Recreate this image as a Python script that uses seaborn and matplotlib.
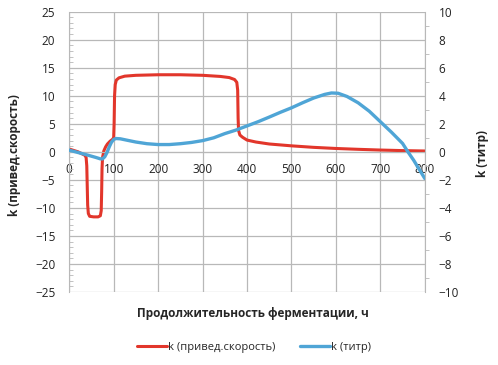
import numpy as np
import pandas as pd
import matplotlib
matplotlib.use("Agg")
import matplotlib.pyplot as plt
from matplotlib.ticker import MultipleLocator
import seaborn as sns

# ---- data ----
time_red = [0, 10, 20, 30, 35, 38, 39.5, 40.5, 41.5, 43, 46, 55, 65, 70, 72, 73, 73.8, 75, 78,
            82, 86, 92, 97, 100, 101, 102, 103.5, 106, 112, 125, 150, 200, 250, 300, 340,
            360, 372, 377, 379, 380, 381, 384, 390, 400, 420, 450, 500, 550, 600, 650,
            700, 750, 800]
k_rate = [0.5, 0.25, 0.0, -0.4, -0.6, -1.0, -2.5, -6.0, -9.5, -11.0, -11.5, -11.6, -11.6,
          -11.4, -10.5, -7.0, -3.0, -1.0, 0.2, 0.9, 1.4, 1.9, 2.2, 2.5, 5.0, 10.0, 12.0,
          12.8, 13.2, 13.5, 13.65, 13.75, 13.75, 13.65, 13.45, 13.25, 12.9, 12.4, 11.0,
          6.0, 3.8, 3.0, 2.6, 2.1, 1.75, 1.4, 1.07, 0.8, 0.6, 0.45, 0.32, 0.22, 0.15]

time_blue = [0, 20, 40, 60, 70, 75, 80, 85, 90, 95, 100, 105, 115, 130, 150, 175, 200, 225,
             250, 275, 300, 325, 350, 375, 400, 425, 450, 475, 500, 525, 550, 575, 590,
             605, 625, 650, 675, 700, 725, 750, 762, 775, 800]
k_titr = [0.12, -0.05, -0.22, -0.4, -0.5, -0.5, -0.35, -0.05, 0.35, 0.68, 0.88, 0.95, 0.93,
          0.83, 0.7, 0.58, 0.52, 0.52, 0.58, 0.67, 0.8, 1.0, 1.3, 1.55, 1.85, 2.15, 2.48,
          2.82, 3.14, 3.5, 3.84, 4.1, 4.2, 4.18, 3.95, 3.5, 2.9, 2.15, 1.4, 0.6, 0.0, -0.6,
          -1.9]

red_label = "k (привед.скорость)"
blue_label = "k (титр)"
x_title = "Продолжительность ферментации, ч"

# ---- style ----
sns.set_style("white")
plt.rcParams['font.family'] = ['Open Sans', 'DejaVu Sans']
red = "#e2362b"
blue = "#4fa5d6"
grid_c = "#b8b8b8"
txt_c = "#222222"

df_red = pd.DataFrame({"t": time_red, "k": k_rate})
df_blue = pd.DataFrame({"t": time_blue, "k": k_titr})

fig = plt.figure(figsize=(4.98, 3.65), dpi=100)
ax = fig.add_axes([0.139, 0.2, 0.714, 0.768])
ax2 = ax.twinx()

sns.lineplot(data=df_red, x="t", y="k", ax=ax, color=red, lw=2.2, sort=False,
             estimator=None, label=red_label, legend=False)
sns.lineplot(data=df_blue, x="t", y="k", ax=ax2, color=blue, lw=2.4, sort=False,
             estimator=None, label=blue_label, legend=False)

# left axis
ax.set_xlim(0, 800)
ax.set_ylim(-25, 25)
ax.xaxis.set_major_locator(MultipleLocator(100))
ax.yaxis.set_major_locator(MultipleLocator(5))
ax.yaxis.set_minor_locator(MultipleLocator(1))
ax.grid(True, which="major", color=grid_c, lw=0.9)
ax.set_axisbelow(True)
for s in ["top", "right"]:
    ax.spines[s].set_visible(False)
ax.spines["left"].set_color(grid_c)
ax.spines["bottom"].set_color(grid_c)
ax.spines["bottom"].set_position(("data", 0))
ax.tick_params(axis="y", which="major", length=0, pad=10, labelsize=8.5, labelcolor=txt_c)
ax.tick_params(axis="y", which="minor", length=3, direction="in", color=grid_c, left=True)
ax.tick_params(axis="x", which="major", length=0, pad=8, labelsize=8.5, labelcolor=txt_c)
ax.set_xlabel("")
ax.set_ylabel(red_label, fontsize=8.5, fontweight="bold")
ax.yaxis.set_label_coords(-0.135, 0.49)

# right axis
ax2.set_ylim(-10, 10)
ax2.yaxis.set_major_locator(MultipleLocator(2))
ax2.yaxis.set_minor_locator(MultipleLocator(1))
for s in ["top", "left", "bottom"]:
    ax2.spines[s].set_visible(False)
ax2.spines["right"].set_color(grid_c)
ax2.tick_params(axis="y", which="major", length=0, pad=10, labelsize=8.5, labelcolor=txt_c)
ax2.tick_params(axis="y", which="minor", length=3, direction="out", color=grid_c, right=True)
ax2.set_ylabel(blue_label, fontsize=8.5, fontweight="bold")
ax2.yaxis.set_label_coords(1.145, 0.495)
ax2.grid(False)

fig.text(0.507, 0.142, x_title, ha="center", va="center", fontsize=8.5, fontweight="bold")

handles = ax.get_lines()[:1] + ax2.get_lines()[:1]
fig.legend(handles, [red_label, blue_label], loc="center", bbox_to_anchor=(0.51, 0.047),
           ncol=2, frameon=False, fontsize=8, handlelength=2.7, columnspacing=2.2,
           handletextpad=0.1)

fig.savefig("out.png", dpi=100)
